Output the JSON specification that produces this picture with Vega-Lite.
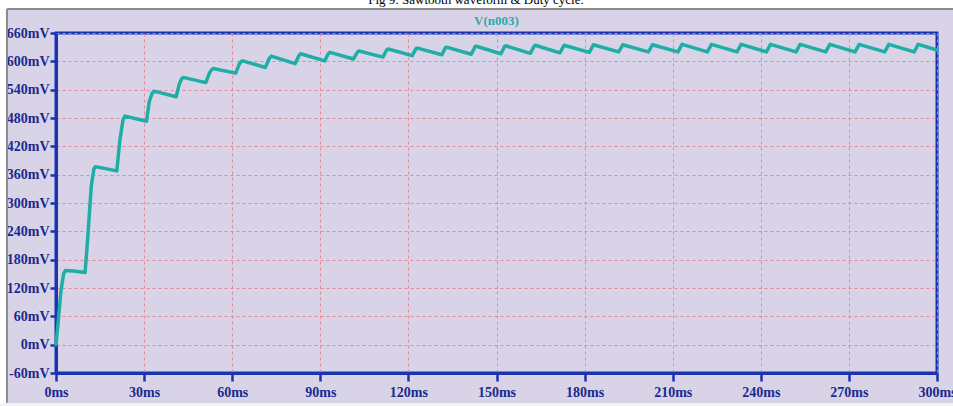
{
  "$schema": "https://vega.github.io/schema/vega-lite/v6.json",
  "width": 881,
  "height": 340,
  "autosize": {"type": "none"},
  "padding": {"left": 56, "top": 33, "right": 16, "bottom": 33},
  "background": "#d9d3e7",
  "config": {
    "view": {"stroke": "#1a32b4", "strokeWidth": 3},
    "axis": {
      "labelFont": "Liberation Serif",
      "labelFontWeight": "bold",
      "labelFontSize": 14,
      "labelColor": "#1b2a8c",
      "domainColor": "#1a32b4",
      "domainWidth": 3,
      "tickColor": "#1a32b4",
      "tickWidth": 2.5,
      "gridColor": "#e8808f",
      "gridDash": [3, 3],
      "gridWidth": 1,
      "gridOpacity": 0.9,
      "labelOverlap": false,
      "labelFlush": false,
      "labelBound": false
    }
  },
  "datasets": {
    "wave": [
      {"t": 0, "v": 0}, {"t": 0.7, "v": 45}, {"t": 1.7, "v": 115}, {"t": 2.6, "v": 150}, {"t": 3.2, "v": 157}, {"t": 6.0, "v": 156}, {"t": 9.9, "v": 153},
      {"t": 10.8, "v": 225}, {"t": 12.0, "v": 335}, {"t": 12.9, "v": 372}, {"t": 13.4, "v": 377}, {"t": 20.7, "v": 368},
      {"t": 21.7, "v": 430}, {"t": 22.8, "v": 476}, {"t": 23.5, "v": 484}, {"t": 30.8, "v": 473},
      {"t": 31.8, "v": 516}, {"t": 32.8, "v": 533}, {"t": 33.4, "v": 537}, {"t": 40.9, "v": 525},
      {"t": 42.0, "v": 552}, {"t": 42.8, "v": 563}, {"t": 43.3, "v": 566}, {"t": 51.0, "v": 555},
      {"t": 52.3, "v": 576}, {"t": 53.0, "v": 582}, {"t": 53.5, "v": 585}, {"t": 61.2, "v": 575},
      {"t": 62.4, "v": 594}, {"t": 63.0, "v": 599}, {"t": 63.5, "v": 601}, {"t": 71.3, "v": 587},
      {"t": 72.6, "v": 606}, {"t": 73.3, "v": 611}, {"t": 81.4, "v": 595},
      {"t": 82.7, "v": 612}, {"t": 83.3, "v": 616}, {"t": 91.5, "v": 601},
      {"t": 92.7, "v": 616}, {"t": 93.3, "v": 619}, {"t": 101.3, "v": 605},
      {"t": 102.7, "v": 620}, {"t": 103.2, "v": 622}, {"t": 111.3, "v": 609},
      {"t": 112.6, "v": 624}, {"t": 113.1, "v": 626}, {"t": 121.3, "v": 612},
      {"t": 122.6, "v": 627}, {"t": 123.1, "v": 628}, {"t": 131.4, "v": 614},
      {"t": 132.6, "v": 629}, {"t": 133.0, "v": 630}, {"t": 141.4, "v": 615},
      {"t": 142.7, "v": 631}, {"t": 143.1, "v": 632}, {"t": 151.5, "v": 616},
      {"t": 152.8, "v": 632}, {"t": 153.1, "v": 633}, {"t": 161.5, "v": 617},
      {"t": 162.9, "v": 633}, {"t": 163.2, "v": 634}, {"t": 171.6, "v": 618},
      {"t": 173.0, "v": 634}, {"t": 181.6, "v": 619},
      {"t": 183.0, "v": 635}, {"t": 191.6, "v": 620},
      {"t": 193.0, "v": 635}, {"t": 201.7, "v": 620},
      {"t": 203.1, "v": 635}, {"t": 211.8, "v": 620},
      {"t": 213.2, "v": 636}, {"t": 221.8, "v": 620},
      {"t": 223.2, "v": 636}, {"t": 231.9, "v": 620},
      {"t": 233.3, "v": 636}, {"t": 241.9, "v": 620},
      {"t": 243.3, "v": 636}, {"t": 252.0, "v": 620},
      {"t": 253.4, "v": 636}, {"t": 262.1, "v": 620},
      {"t": 263.5, "v": 636}, {"t": 272.1, "v": 620},
      {"t": 273.5, "v": 636}, {"t": 282.2, "v": 620},
      {"t": 283.6, "v": 636}, {"t": 292.2, "v": 620},
      {"t": 293.6, "v": 636}, {"t": 300, "v": 624}
    ],
    "one": [{"k": 1}]
  },
  "layer": [
    {
      "data": {"name": "one"},
      "mark": {"type": "rect", "color": "white"},
      "encoding": {
        "x": {"datum": -40}, "x2": {"datum": 330},
        "y": {"datum": 711}, "y2": {"datum": 800}
      }
    },
    {
      "data": {"name": "one"},
      "mark": {"type": "rect", "color": "white"},
      "encoding": {
        "x": {"datum": -40}, "x2": {"datum": -17},
        "y": {"datum": -200}, "y2": {"datum": 800}
      }
    },
    {
      "data": {"name": "one"},
      "mark": {"type": "rect", "color": "#f2f2f2"},
      "encoding": {
        "x": {"datum": -40}, "x2": {"datum": 330},
        "y": {"datum": -200}, "y2": {"datum": -123.5}
      }
    },
    {
      "data": {"name": "one"},
      "mark": {"type": "rule", "color": "#8a8a8a", "strokeWidth": 2},
      "encoding": {
        "x": {"datum": -16.7}, "x2": {"datum": 330},
        "y": {"datum": 711}
      }
    },
    {
      "data": {"name": "one"},
      "mark": {"type": "rule", "color": "#8a8a8a", "strokeWidth": 2},
      "encoding": {
        "x": {"datum": -16.7},
        "y": {"datum": -123}, "y2": {"datum": 711}
      }
    },
    {
      "data": {"name": "one"},
      "mark": {"type": "text", "text": "Fig 9: Sawtooth waveform & Duty cycle.", "font": "Liberation Serif", "fontSize": 13, "color": "black", "align": "center", "baseline": "alphabetic"},
      "encoding": {
        "x": {"datum": 143},
        "y": {"datum": 721}
      }
    },
    {
      "data": {"name": "one"},
      "mark": {"type": "text", "text": "V(n003)", "font": "Liberation Serif", "fontWeight": "bold", "fontSize": 13, "color": "#2aabaa", "align": "center", "baseline": "middle"},
      "encoding": {
        "x": {"datum": 150},
        "y": {"datum": 685}
      }
    },
    {
      "data": {"name": "wave"},
      "mark": {"type": "line", "color": "#1eaea6", "strokeWidth": 3.5, "strokeJoin": "round", "strokeCap": "round"},
      "encoding": {
        "x": {
          "field": "t",
          "type": "quantitative",
          "scale": {"domain": [0, 300], "nice": false, "zero": false},
          "axis": {"title": null, "grid": true, "gridDash": [3, 3], "gridColor": "#e8808f", "labelOverlap": false, "tickCount": 30, "values": [0, 30, 60, 90, 120, 150, 180, 210, 240, 270, 300], "labelExpr": "datum.value + 'ms'", "tickSize": 8, "labelPadding": 4}
        },
        "y": {
          "field": "v",
          "type": "quantitative",
          "scale": {"domain": [-60, 660], "nice": false, "zero": false},
          "axis": {"title": null, "grid": true, "gridDash": [3, 3], "gridColor": "#e8808f", "labelOverlap": false, "tickCount": 30, "values": [-60, 0, 60, 120, 180, 240, 300, 360, 420, 480, 540, 600, 660], "labelExpr": "datum.value + 'mV'", "tickSize": 6, "labelPadding": 1}
        }
      }
    }
  ]
}
